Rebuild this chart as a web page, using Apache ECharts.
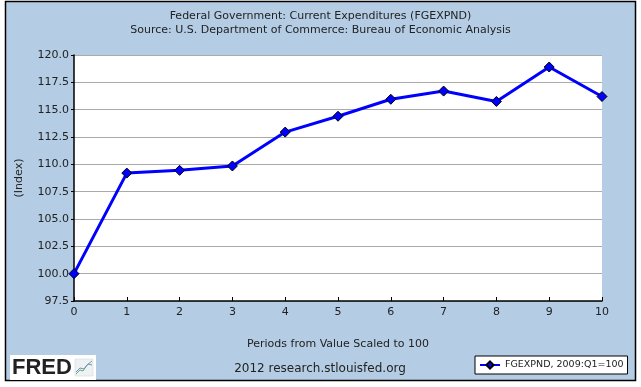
<!DOCTYPE html>
<html><head><meta charset="utf-8">
<script src="https://cdn.jsdelivr.net/npm/echarts@6/dist/echarts.min.js"></script>
<style>html,body{margin:0;padding:0;background:#fff}#c{width:641px;height:387px}</style>
</head><body><div id="c"></div>
<script>
const periods = [0,1,2,3,4,5,6,7,8,9,10];
const values = [100.0,109.2,109.45,109.85,112.95,114.4,115.95,116.7,115.75,118.9,116.2];
const yTicks = [97.5,100,102.5,105,107.5,110,112.5,115,117.5,120];
const titleText = 'Federal Government: Current Expenditures (FGEXPND)';
const subText = 'Source: U.S. Department of Commerce: Bureau of Economic Analysis';
const seriesName = 'FGEXPND, 2009:Q1=100';
const xName = 'Periods from Value Scaled to 100';
const yName = '(Index)';
const credit = '2012 research.stlouisfed.org';

const FONT = 'DejaVu Sans';
const chart = echarts.init(document.getElementById('c'), null, {renderer:'canvas'});
chart.setOption({
  backgroundColor:'#fff',
  animation:false,
  textStyle:{fontFamily:FONT},
  graphic:[
    {type:'rect', z:-10, shape:{x:5.5,y:1.5,width:630,height:379}, style:{fill:'#b4cde4',stroke:'#000',lineWidth:1.5}},
    {type:'text', z:10, x:320, y:369, style:{text:credit, fill:'#222', font:'12px "DejaVu Sans"', align:'center', verticalAlign:'middle'}},
    {type:'group', z:10, x:10, y:355, children:[
      {type:'rect', shape:{x:0,y:0,width:86,height:25}, style:{fill:'#fff'}},
      {type:'text', x:2, y:13, style:{text:'FRED', fill:'#222', font:'bold 22px "Liberation Sans"', verticalAlign:'middle'}},
      {type:'rect', shape:{x:65,y:4,width:18,height:17}, style:{fill:'#eef2f5',stroke:'#c8d0d8',lineWidth:0.5}},
      {type:'polyline', shape:{points:[[66,19],[70,15],[73,16],[77,10],[82,6]]}, style:{stroke:'#7aa85a',lineWidth:1,fill:null}},
      {type:'polyline', shape:{points:[[66,17],[70,13],[74,14],[78,9],[82,10]]}, style:{stroke:'#6a8fc8',lineWidth:1,fill:null}}
    ]}
  ],
  title:{
    text:titleText+'\n'+subText,
    left:'center', top:4,
    textStyle:{fontFamily:FONT,fontSize:11,fontWeight:'normal',color:'#222',lineHeight:14}
  },
  legend:{
    left:475, top:356, itemWidth:20, itemHeight:9, itemGap:5,
    padding:[4,4,4,4],
    backgroundColor:'#fff', borderColor:'#000', borderWidth:1,
    textStyle:{fontFamily:FONT,fontSize:9.5,color:'#222'},
    data:[seriesName]
  },
  grid:{left:74,right:39,top:55,bottom:86,show:true,backgroundColor:'#fff',borderWidth:0,containLabel:false},
  xAxis:{
    type:'value', min:0, max:10, interval:1,
    name:xName, nameLocation:'middle', nameGap:38,
    nameTextStyle:{fontFamily:FONT,fontSize:11,color:'#222'},
    axisLine:{lineStyle:{color:'#000',width:1.5}},
    axisTick:{inside:true,length:4,lineStyle:{color:'#000'}},
    axisLabel:{fontFamily:FONT,fontSize:11,color:'#222',margin:6},
    splitLine:{show:false}
  },
  yAxis:{
    type:'value', min:yTicks[0], max:yTicks[yTicks.length-1], interval:2.5,
    name:yName, nameLocation:'middle', nameGap:49, nameRotate:90,
    nameTextStyle:{fontFamily:FONT,fontSize:11,color:'#222'},
    axisLine:{show:true,lineStyle:{color:'#000',width:1.5}},
    axisTick:{show:true,length:3,lineStyle:{color:'#000'}},
    axisLabel:{fontFamily:FONT,fontSize:11,color:'#222',margin:5,formatter:v=>v.toFixed(1)},
    splitLine:{lineStyle:{color:'#aaa',width:1}}
  },
  series:[{
    name:seriesName, type:'line',
    data:periods.map((p,i)=>[p,values[i]]),
    lineStyle:{color:'#0000ff',width:3},
    itemStyle:{color:'#0000ff',borderColor:'#000',borderWidth:1},
    symbol:'diamond', symbolSize:10, showSymbol:true,
    clip:false
  }]
});
</script></body></html>
